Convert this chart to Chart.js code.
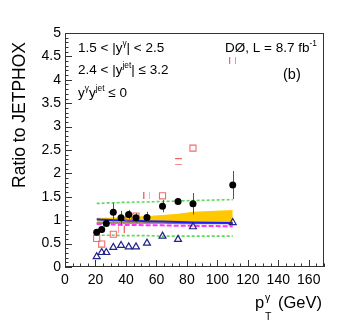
<!DOCTYPE html>
<html>
<head>
<meta charset="utf-8">
<script src="https://cdn.jsdelivr.net/npm/chart.js@4.4.1/dist/chart.umd.min.js"></script>
<style>
  html, body { margin: 0; padding: 0; background: #fff; }
  canvas { display: block; }
</style>
</head>
<body>
<canvas id="ratio" width="338" height="321"></canvas>
<script>
// pT bin centres (GeV)
const ptBins = [20.8, 24.1, 27.1, 31.7, 36.8, 41.8, 46.6, 53.8, 64.0, 74.2, 84.0, 110.1];

// D0 data / JETPHOX
const dataRatio = [0.74, 0.80, 0.93, 1.17, 1.05, 1.12, 1.05, 1.06, 1.30, 1.40, 1.35, 1.75];
const dataErr   = [0.05, 0.06, 0.05, 0.20, 0.15, 0.10, 0.10, 0.12, 0.13, 0.03, 0.23, 0.30];

// model ratios (open markers)
const squareRatio = [0.61, 0.49, null, 0.70, 0.81, 1.07, 1.09, 1.52, 1.52, 2.25, 2.54, 4.42];
const squareShape = ['full', 'full', 'full', 'full', 'vert', 'full', 'full', 'vert', 'full', 'horiz', 'full', 'vert'];
const triangleRatio = [0.22, 0.31, 0.31, 0.42, 0.46, 0.43, 0.43, 0.51, 0.66, 0.59, 0.86, 0.95];

// scale uncertainty band and other theory curves
const bandHigh = [1.05, 1.05, 1.05, 1.06, 1.06, 1.07, 1.08, 1.09, 1.11, 1.14, 1.18, 1.22];
const bandLow  = [0.94, 0.94, 0.94, 0.94, 0.94, 0.94, 0.94, 0.94, 0.94, 0.93, 0.93, 0.93];
const blueCurve    = [1.02, 1.01, 1.01, 1.00, 1.00, 0.99, 0.99, 0.98, 0.97, 0.96, 0.95, 0.94];
const magentaCurve = [0.92, 0.92, 0.91, 0.91, 0.90, 0.90, 0.90, 0.89, 0.89, 0.88, 0.88, 0.87];
const greenHigh = [1.36, 1.36, 1.37, 1.37, 1.38, 1.38, 1.39, 1.39, 1.40, 1.41, 1.42, 1.44];
const greenLow  = [0.68, 0.68, 0.68, 0.68, 0.67, 0.67, 0.67, 0.67, 0.66, 0.66, 0.66, 0.66];

// axis ticks
const xTicks = [0, 20, 40, 60, 80, 100, 120, 140, 160];
const yTicks = [0, 0.5, 1, 1.5, 2, 2.5, 3, 3.5, 4, 4.5, 5];

const FONT = "'Liberation Sans', Arial, sans-serif";
const RED = '#f26b6b';
const GREEN = '#5fd85f';

const toPoints = (ys) => ptBins.map((x, i) => ({ x: x, y: ys[i] })).filter(p => p.y !== null);

// red markers that only show two sides of the square
const partialMark = (kind) => {
    const c = document.createElement('canvas');
    c.width = 7; c.height = 7;
    const g = c.getContext('2d');
    g.strokeStyle = RED;
    g.lineWidth = 1;
    g.beginPath();
    if (kind === 'vert') {
        g.moveTo(0.5, 0); g.lineTo(0.5, 7);
        g.moveTo(6.5, 0); g.lineTo(6.5, 7);
    } else {
        g.moveTo(0, 0.5); g.lineTo(7, 0.5);
        g.moveTo(0, 6.5); g.lineTo(7, 6.5);
    }
    g.stroke();
    return c;
};
const marks = { vert: partialMark('vert'), horiz: partialMark('horiz') };
const squareStyles = squareShape.filter((s, i) => squareRatio[i] !== null)
    .map(s => s === 'full' ? 'rect' : marks[s]);

const lineSet = (label, ys, color, width, dash, order) => ({
    label: label,
    data: toPoints(ys),
    borderColor: color,
    borderWidth: width,
    borderDash: dash,
    pointRadius: 0,
    fill: false,
    tension: 0,
    order: order
});

// text with super/subscripts: runs of [text, 'n'|'sup'|'sub']
const drawRuns = (ctx, x, y, size, runs) => {
    runs.forEach(([txt, kind]) => {
        const s = kind === 'n' ? size : size * 0.62;
        const dy = kind === 'sup' ? -size * 0.42 : kind === 'sub' ? size * 0.25 : 0;
        ctx.font = s + 'px ' + FONT;
        ctx.fillText(txt, x, y + dy);
        x += ctx.measureText(txt).width;
    });
};

const DATA_INDEX = 8;

const rootStyle = {
    id: 'rootStyle',
    beforeDatasetDraw(chart, args) {
        if (args.index !== DATA_INDEX) return;
        const ctx = chart.ctx;
        const xs = chart.scales.x, ys = chart.scales.y;
        ctx.save();
        ctx.strokeStyle = '#555';
        ctx.lineWidth = 1;
        ptBins.forEach((x, i) => {
            const px = Math.round(xs.getPixelForValue(x)) + 0.5;
            ctx.beginPath();
            ctx.moveTo(px, ys.getPixelForValue(dataRatio[i] - dataErr[i]));
            ctx.lineTo(px, ys.getPixelForValue(dataRatio[i] + dataErr[i]));
            ctx.stroke();
        });
        ctx.restore();
    },
    afterDraw(chart) {
        const ctx = chart.ctx;
        const a = chart.chartArea;
        const xs = chart.scales.x, ys = chart.scales.y;
        ctx.save();
        // frame
        ctx.strokeStyle = '#333';
        ctx.lineWidth = 1;
        ctx.strokeRect(a.left + 0.5, a.top + 0.5, a.right - a.left - 1, a.bottom - a.top - 1);
        // inward ticks
        ctx.beginPath();
        for (let v = 0; v <= 170; v += 5) {
            const px = Math.round(xs.getPixelForValue(v)) + 0.5;
            const len = v % 20 === 0 ? 7 : 3.5;
            ctx.moveTo(px, a.bottom);
            ctx.lineTo(px, a.bottom - len);
        }
        for (let k = 0; k <= 50; k++) {
            const py = Math.round(ys.getPixelForValue(k / 10)) + 0.5;
            const len = k % 5 === 0 ? 7 : 3.5;
            ctx.moveTo(a.left, py);
            ctx.lineTo(a.left + len, py);
        }
        ctx.stroke();

        // labels inside the frame
        ctx.fillStyle = '#000';
        ctx.textBaseline = 'alphabetic';
        ctx.textAlign = 'left';
        drawRuns(ctx, 78, 52, 13.5, [['1.5 < |y', 'n'], ['\u03b3', 'sup'], ['| < 2.5', 'n']]);
        drawRuns(ctx, 78, 74, 13.5, [['2.4 < |y', 'n'], ['jet', 'sup'], ['| \u2264 3.2', 'n']]);
        drawRuns(ctx, 78, 97, 13.5, [['y', 'n'], ['\u03b3', 'sup'], ['y', 'n'], ['jet', 'sup'], [' \u2264 0', 'n']]);
        drawRuns(ctx, 225, 52, 13.5, [['D\u00d8, L = 8.7 fb', 'n'], ['-1', 'sup']]);
        drawRuns(ctx, 283, 79, 14.5, [['(b)', 'n']]);

        // axis titles
        drawRuns(ctx, 255, 308, 16.5, [['p', 'n']]);
        ctx.font = '10.5px ' + FONT;
        ctx.fillText('T', 265, 320);
        ctx.fillText('\u03b3', 265, 301);
        ctx.font = '16.5px ' + FONT;
        ctx.fillText('(GeV)', 278, 308);

        ctx.translate(25, 42);
        ctx.rotate(-Math.PI / 2);
        ctx.textAlign = 'right';
        ctx.font = '17.5px ' + FONT;
        ctx.fillText('Ratio to JETPHOX', 0, 0);
        ctx.restore();
    }
};

Chart.defaults.font.family = FONT;
Chart.defaults.color = '#000';

new Chart(document.getElementById('ratio'), {
    type: 'line',
    data: {
        datasets: [
            {   // upper edge of the scale band, filled down to the lower edge
                label: 'band high',
                data: toPoints(bandHigh),
                borderWidth: 0,
                borderColor: 'rgba(0,0,0,0)',
                backgroundColor: '#ffc800',
                pointRadius: 0,
                tension: 0,
                fill: '+1',
                order: 10
            },
            lineSet('band low', bandLow, '#7a7a7a', 1.5, [], 9),
            lineSet('green high', greenHigh, GREEN, 1.6, [3, 2], 8),
            lineSet('green low', greenLow, GREEN, 1.6, [3, 2], 8),
            lineSet('magenta', magentaCurve, '#ff33ff', 2, [5, 2], 7),
            lineSet('blue', blueCurve, '#2020ff', 2, [], 6),
            {
                label: 'triangles',
                data: toPoints(triangleRatio),
                showLine: false,
                pointStyle: 'triangle',
                pointRadius: 4,
                borderColor: '#22228a',
                backgroundColor: 'rgba(0,0,0,0)',
                borderWidth: 1.2,
                order: 5
            },
            {
                label: 'squares',
                data: toPoints(squareRatio),
                showLine: false,
                pointStyle: squareStyles,
                pointRadius: 4.3,
                borderColor: RED,
                backgroundColor: 'rgba(0,0,0,0)',
                borderWidth: 1.1,
                order: 4
            },
            {
                label: 'data',
                data: toPoints(dataRatio),
                showLine: false,
                pointStyle: 'circle',
                pointRadius: 3.5,
                borderColor: '#000',
                backgroundColor: '#000',
                borderWidth: 0,
                order: 1
            }
        ]
    },
    options: {
        responsive: false,
        animation: false,
        devicePixelRatio: 1,
        layout: { padding: { top: 33, right: 14, left: 0, bottom: 0 } },
        plugins: {
            legend: { display: false },
            tooltip: { enabled: false }
        },
        scales: {
            x: {
                type: 'linear',
                min: 0,
                max: 170,
                afterBuildTicks: (scale) => {
                    scale.ticks = xTicks.map(v => ({ value: v }));
                },
                afterFit: (scale) => { scale.height = 54; },
                grid: { display: false, drawTicks: false },
                border: { display: false },
                ticks: { padding: 5, font: { size: 14 }, maxRotation: 0, autoSkip: false,
                         callback: (v) => String(v) }
            },
            y: {
                type: 'linear',
                min: 0,
                max: 5,
                afterBuildTicks: (scale) => {
                    scale.ticks = yTicks.map(v => ({ value: v }));
                },
                afterFit: (scale) => { scale.width = 65; },
                grid: { display: false, drawTicks: false },
                border: { display: false },
                ticks: { padding: 4, font: { size: 14 }, autoSkip: false,
                         callback: (v) => String(v) }
            }
        }
    },
    plugins: [rootStyle]
});
</script>
</body>
</html>
